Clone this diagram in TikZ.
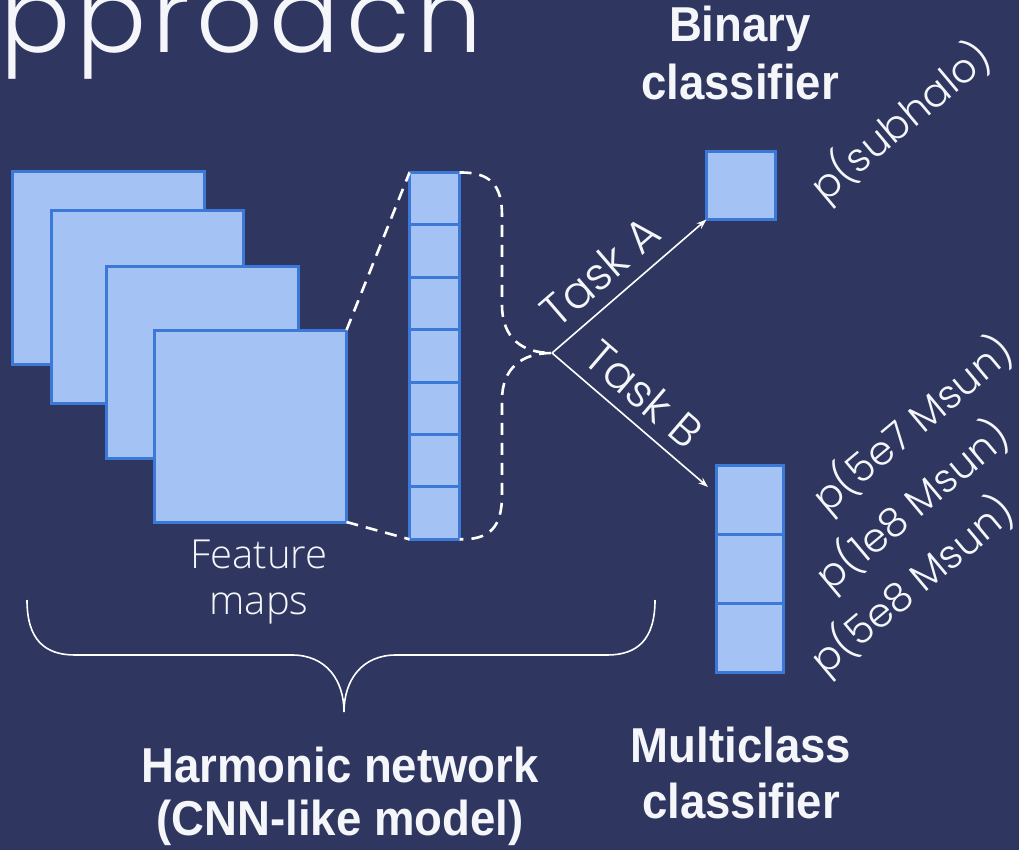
\documentclass[tikz,border=0pt]{standalone}
\usepackage{fontspec}
\usetikzlibrary{arrows.meta,positioning}
\newfontfamily\headfont{Liberation Sans}[FakeStretch=0.93]
\newfontfamily\geofont{Poppins}[UprightFont={* Light}]
\newfontfamily\capfont{Open Sans}[UprightFont={* Light}]
\definecolor{bgnavy}{HTML}{2F3760}
\definecolor{cellfill}{HTML}{A4C2F4}
\definecolor{celledge}{HTML}{3C78D8}
\definecolor{inkwhite}{HTML}{F5F6FA}
\tikzset{
  cell/.style={draw=celledge, fill=cellfill, line width=3pt, inner sep=0pt, outer sep=0pt},
  fmap/.style={cell, minimum width=192pt, minimum height=192pt},
  vcell/.style={cell, minimum width=50pt, minimum height=52.4pt},
  mcell/.style={cell, minimum width=67pt, minimum height=69pt},
  dashline/.style={draw=white, line width=2.6pt, dash pattern=on 12pt off 8pt},
  taskarrow/.style={draw=white, line width=1.6pt, -{Stealth[length=10pt,width=7pt]}},
  heading/.style={text=inkwhite, inner sep=0pt, anchor=base, font=\headfont\bfseries\fontsize{49}{58}\selectfont},
  geolabel/.style={text=inkwhite, inner sep=0pt, font=\geofont\fontsize{40}{46}\selectfont},
  tasklabel/.style={text=inkwhite, inner sep=0pt, sloped, font=\geofont\fontsize{45}{52}\selectfont},
  caption/.style={text=inkwhite, inner sep=0pt, anchor=base, font=\capfont\fontsize{40}{46}\selectfont},
}
\begin{document}
\begin{tikzpicture}[x=1pt, y=-1pt]
\useasboundingbox (0,0) rectangle (1019,850);
\fill[bgnavy] (0,0) rectangle (1019,850);
\clip (0,0) rectangle (1019,850);

% title fragment
\node[text=inkwhite, inner sep=0pt, anchor=base west, font=\geofont\fontsize{104}{114}\selectfont\addfontfeature{LetterSpace=6}] (title) at (0,53) {pproach};

% stacked feature maps
\node[fmap] (map1) at (108.5,268) {};
\node[fmap] (map2) at (147.5,307) {};
\node[fmap] (map3) at (202.5,362) {};
\node[fmap] (map4) at (250.5,426) {};

% flattened feature vector
\node[vcell] (v1) at (434.5,198.7) {};
\node[vcell, below=0pt of v1] (v2) {};
\node[vcell, below=0pt of v2] (v3) {};
\node[vcell, below=0pt of v3] (v4) {};
\node[vcell, below=0pt of v4] (v5) {};
\node[vcell, below=0pt of v5] (v6) {};
\node[vcell, below=0pt of v6] (v7) {};

% projection of the last map onto the vector
\draw[dashline] (map4.north east) -- (v1.north west);
\draw[dashline] (map4.south east) -- (v7.south west);

% brace gathering the vector into one branching point
\coordinate (split) at (552,353);
\draw[dashline] (v1.north east) .. controls (490,172) and (502,185) .. (502,215)
  -- (502,305) .. controls (502,338) and (522,353) .. (split)
  .. controls (522,353) and (502,368) .. (502,400)
  -- (502,495) .. controls (502,527) and (490,540) .. (v7.south east);

% classifier heads
\node[cell, minimum width=69pt, minimum height=68pt] (bin) at (741,185.5) {};
\node[mcell] (m1) at (750,500) {};
\node[mcell, below=0pt of m1] (m2) {};
\node[mcell, below=0pt of m2] (m3) {};
\coordinate (tipB) at (708,487);

\draw[taskarrow] (split) -- (bin.south west)
  node[tasklabel, pos=0.44, above=13pt] (taskA) {Task A};
\draw[taskarrow] (split) -- (tipB)
  node[tasklabel, pos=0.47, above=12pt] (taskB) {Task B};

% output labels
\node[geolabel, rotate=40] (psub) at (901,122) {p(subhalo)};
\node[geolabel, rotate=40] (p57) at (913,425) {p(5e7 Msun)};
\node[geolabel, rotate=40] (p18) at (913,506) {p(1e8 Msun)};
\node[geolabel, rotate=40] (p58) at (913,586) {p(5e8 Msun)};

% captions
\node[caption] (feat1) at (259,568) {Feature};
\node[caption] (feat2) at (259,614) {maps};

% brace under the network
\coordinate (braceL) at (27,600);
\coordinate (braceR) at (655,600);
\coordinate (braceTip) at (344,712);
\draw[white, line width=1.6pt] (braceL) .. controls (27,640) and (45,655) .. (75,655)
  -- (292,655) .. controls (326,655) and (344,680) .. (braceTip)
  .. controls (344,680) and (362,655) .. (396,655)
  -- (607,655) .. controls (637,655) and (655,640) .. (braceR);

% headings
\node[heading] (binA) at (740,42) {Binary};
\node[heading] (binB) at (740,100) {classifier};
\node[heading] (mcA) at (741,762) {Multiclass};
\node[heading] (mcB) at (741,818) {classifier};
\node[heading] (hnA) at (340,782) {Harmonic network};
\node[heading] (hnB) at (340,835) {(CNN-like model)};
\end{tikzpicture}
\end{document}
